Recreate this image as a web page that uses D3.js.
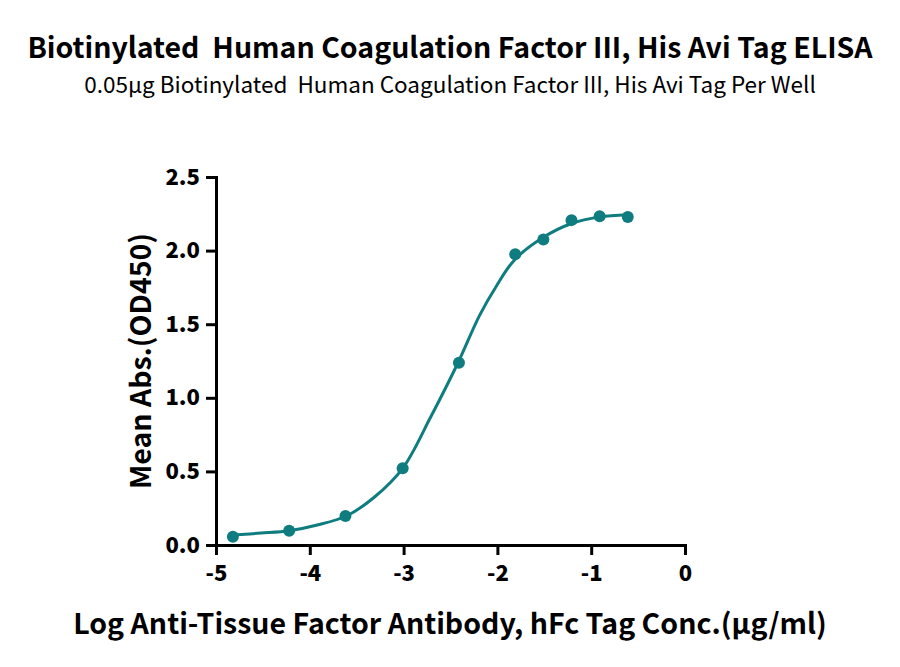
<!DOCTYPE html>
<html>
<head>
<meta charset="utf-8">
<script src="https://cdn.jsdelivr.net/npm/d3@7"></script>
<style>
  body { margin: 0; background: #fff; }
  svg { display: block; font-family: "Noto Sans CJK SC", "Noto Sans", sans-serif; }
</style>
</head>
<body>
<script>
// measured points: log conc (ug/ml) vs mean OD450
var logConc = [-4.82, -4.22, -3.62, -3.01, -2.41, -1.81, -1.51, -1.21, -0.91, -0.61];
var meanOD = [0.056, 0.097, 0.197, 0.521, 1.238, 1.976, 2.076, 2.207, 2.234, 2.229];

// fitted curve
var fitX = [-4.82, -4.52, -4.22, -3.92, -3.61, -3.31, -3.01, -2.71, -2.42, -2.19, -2.01, -1.82, -1.51, -1.21, -0.91, -0.61];
var fitY = [0.068, 0.081, 0.097, 0.136, 0.197, 0.326, 0.521, 0.871, 1.238, 1.56, 1.76, 1.935, 2.09, 2.184, 2.229, 2.244];

var xTicks = [-5, -4, -3, -2, -1, 0];
var yTicks = [0, 0.5, 1.0, 1.5, 2.0, 2.5];

var titleText = 'Biotinylated\u00a0 Human Coagulation Factor III, His Avi Tag ELISA';
var subtitleText = '0.05\u03bcg Biotinylated\u00a0 Human Coagulation Factor III, His Avi Tag Per Well';
var xLabel = 'Log Anti-Tissue Factor Antibody, hFc Tag Conc.(\u03bcg/ml)';
var yLabel = 'Mean Abs.(OD450)';

var width = 900, height = 667,
    color = '#0f7d80';

var svg = d3.select('body').append('svg')
    .attr('width', width)
    .attr('height', height);

var x = d3.scaleLinear().domain([-5, 0]).range([216, 685]);
var y = d3.scaleLinear().domain([0, 2.5]).range([545, 177]);

svg.append('text')
    .attr('x', 450).attr('y', 58)
    .attr('text-anchor', 'middle')
    .style('font-size', '28.5px').style('font-weight', 'bold')
    .text(titleText);

svg.append('text')
    .attr('x', 450).attr('y', 93)
    .attr('text-anchor', 'middle')
    .style('font-size', '22.5px')
    .text(subtitleText);

var xAxis = svg.append('g')
    .attr('transform', 'translate(0,545)')
    .call(d3.axisBottom(x).tickValues(xTicks).tickSize(10).tickPadding(10)
        .tickFormat(function(d) { return d < 0 ? '-' + Math.abs(d) : String(d); }));

var yAxis = svg.append('g')
    .attr('transform', 'translate(216,0)')
    .call(d3.axisLeft(y).tickValues(yTicks).tickSize(10).tickPadding(6).tickFormat(d3.format('.1f')));

[xAxis, yAxis].forEach(function(ax) {
    ax.select('.domain').attr('stroke', '#000').attr('stroke-width', 3);
    ax.selectAll('.tick line').attr('stroke', '#000').attr('stroke-width', 3);
    ax.selectAll('.tick text')
        .attr('fill', '#000')
        .style('font-family', '"Noto Sans CJK SC", "Noto Sans", sans-serif')
        .style('font-size', '22px').style('font-weight', '900');
});

svg.append('text')
    .attr('transform', 'translate(151,361) rotate(-90)')
    .attr('text-anchor', 'middle')
    .style('font-size', '28.5px').style('font-weight', 'bold')
    .text(yLabel);

svg.append('text')
    .attr('x', 450).attr('y', 634)
    .attr('text-anchor', 'middle')
    .style('font-size', '28.5px').style('font-weight', 'bold')
    .text(xLabel);

var line = d3.line()
    .x(function(d, i) { return x(d); })
    .y(function(d, i) { return y(fitY[i]); })
    .curve(d3.curveCatmullRom.alpha(0.5));

svg.append('path')
    .datum(fitX)
    .attr('d', line)
    .attr('fill', 'none')
    .attr('stroke', color)
    .attr('stroke-width', 3);

svg.selectAll('circle.pt')
    .data(logConc)
    .enter().append('circle')
    .attr('class', 'pt')
    .attr('cx', function(d) { return x(d); })
    .attr('cy', function(d, i) { return y(meanOD[i]); })
    .attr('r', 6)
    .attr('fill', color);
</script>
</body>
</html>
